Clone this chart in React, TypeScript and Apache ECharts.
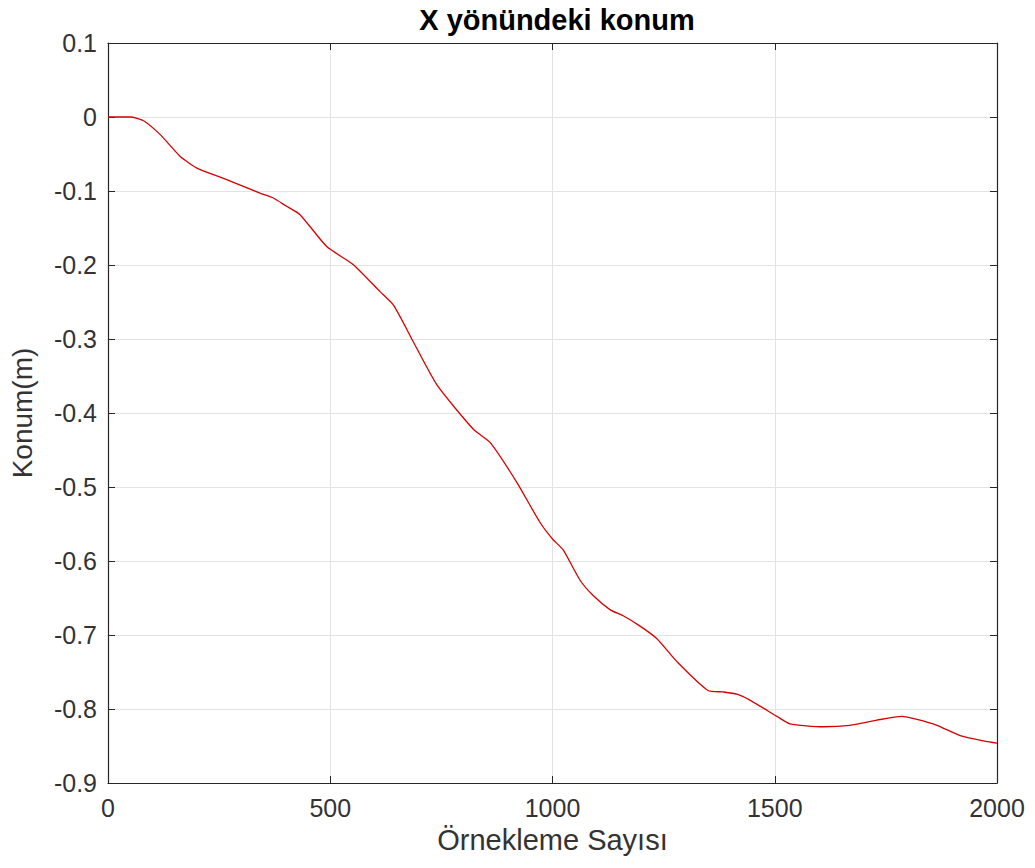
import React, { useEffect, useRef } from "react";
import * as echarts from "echarts";

// Sample index (Örnekleme Sayısı) and X position in metres
const sampleIdx = [
  0, 50, 80, 117, 162, 200, 267, 342, 372, 400, 432, 492, 552, 612, 642, 687,
  740, 822, 860, 920, 972, 1001, 1024, 1062, 1092, 1130, 1159, 1197, 1235,
  1280, 1350, 1384, 1415, 1444, 1505, 1534, 1609, 1669, 1730, 1786, 1820,
  1865, 1917, 1969, 2000,
];
const positionX = [
  0, 0, -0.005, -0.0235, -0.053, -0.069, -0.0845, -0.103, -0.1095, -0.12,
  -0.132, -0.175, -0.1995, -0.236, -0.254, -0.304, -0.362, -0.422, -0.44,
  -0.494, -0.548, -0.571, -0.585, -0.626, -0.647, -0.666, -0.674, -0.688,
  -0.705, -0.736, -0.775, -0.777, -0.78, -0.788, -0.81, -0.82, -0.824, -0.822,
  -0.815, -0.81, -0.814, -0.822, -0.836, -0.843, -0.846,
];

const titleText = "X yönündeki konum";
const xName = "Örnekleme Sayısı";
const yName = "Konum(m)";

const FONT = "'Liberation Sans', Arial, Helvetica, sans-serif";
const AXIS_COLOR = "#262626";
const LABEL_COLOR = "#333333";
const GRID_COLOR = "#e3e3e3";

export default function App() {
  const ref = useRef<HTMLDivElement>(null);

  useEffect(() => {
    document.body.style.margin = "0";
    if (!ref.current) return;
    const chart = echarts.init(ref.current, undefined, { renderer: "svg" });

    const points = sampleIdx.map((x, i) => [x, positionX[i]]);
    const fmtY = (v: number) => {
      const r = Math.round(v * 10) / 10;
      return r === 0 ? "0" : String(r);
    };
    const fmtX = (v: number) => String(Math.round(v));

    const axisLine = { show: true, onZero: false, lineStyle: { color: AXIS_COLOR, width: 1.2 } };
    const axisTick = { show: true, inside: true, length: 7, lineStyle: { color: AXIS_COLOR } };
    const boxAxis = {
      axisLine,
      axisTick,
      axisLabel: { show: false },
      splitLine: { show: false },
    };

    chart.setOption({
      animation: false,
      backgroundColor: "#ffffff",
      title: {
        text: titleText,
        left: 552,
        top: 0,
        textAlign: "center",
        textStyle: { fontFamily: FONT, fontSize: 29, fontWeight: "bold", color: "#000" },
      },
      grid: { left: 108, right: 38, top: 43, bottom: 85, containLabel: false },
      xAxis: [
        {
          type: "value",
          position: "bottom",
          min: 0,
          max: 2000,
          interval: 500,
          name: xName,
          nameLocation: "middle",
          nameGap: 42,
          nameTextStyle: { fontFamily: FONT, fontSize: 29, color: LABEL_COLOR },
          axisLine,
          axisTick,
          axisLabel: { fontFamily: FONT, fontSize: 25, color: LABEL_COLOR, margin: 12, formatter: fmtX },
          splitLine: { show: true, lineStyle: { color: GRID_COLOR, width: 1 } },
        },
        { type: "value", position: "top", min: 0, max: 2000, interval: 500, ...boxAxis },
      ],
      yAxis: [
        {
          type: "value",
          position: "left",
          min: -0.9,
          max: 0.1,
          interval: 0.1,
          name: yName,
          nameLocation: "middle",
          nameGap: 72,
          nameRotate: 90,
          nameTextStyle: { fontFamily: FONT, fontSize: 28, color: LABEL_COLOR },
          axisLine,
          axisTick,
          axisLabel: { fontFamily: FONT, fontSize: 25, color: LABEL_COLOR, margin: 11, formatter: fmtY },
          splitLine: { show: true, lineStyle: { color: GRID_COLOR, width: 1 } },
        },
        { type: "value", position: "right", min: -0.9, max: 0.1, interval: 0.1, ...boxAxis },
      ],
      series: [
        {
          type: "line",
          data: points,
          showSymbol: false,
          smooth: 0.2,
          lineStyle: { color: "#d80000", width: 1.3 },
          xAxisIndex: 0,
          yAxisIndex: 0,
        },
      ],
    });

    return () => chart.dispose();
  }, []);

  return <div ref={ref} style={{ width: 1035, height: 868 }} />;
}
